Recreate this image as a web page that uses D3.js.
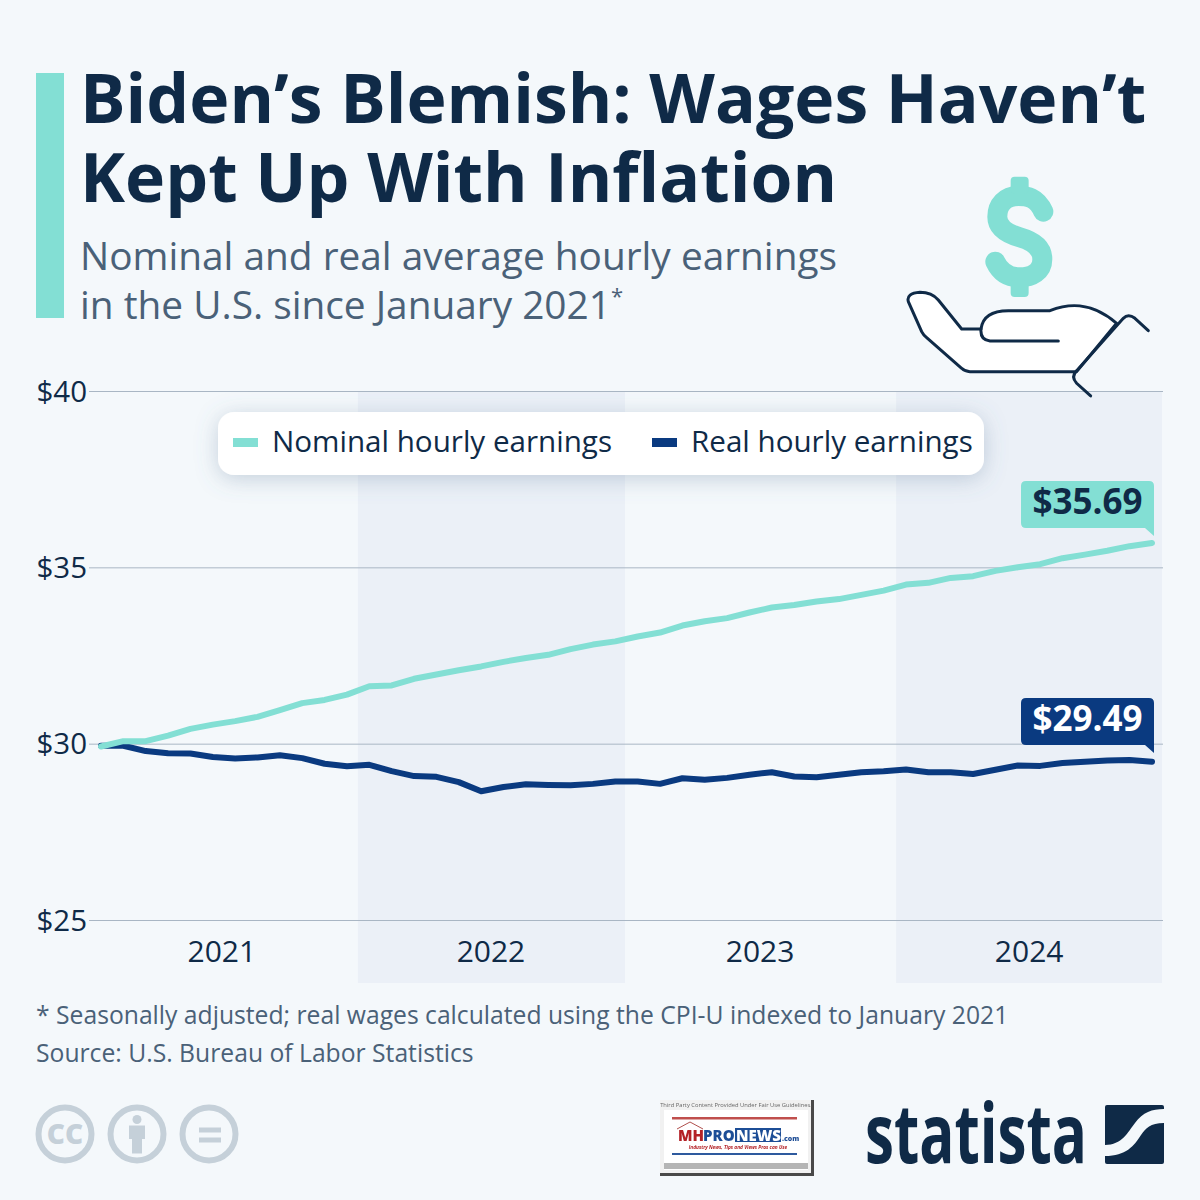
<!DOCTYPE html>
<html><head><meta charset="utf-8">
<script src="https://cdn.jsdelivr.net/npm/d3@7"></script>
<style>html,body{margin:0;padding:0;background:#f4f8fb}svg{display:block}text{font-family:"Open Sans",sans-serif}</style>
</head><body><svg id="c" width="1200" height="1200"></svg>
<script>
const years=["2021","2022","2023","2024"];
const yTicks=[25,30,35,40];
const nominal=[29.92,30.07,30.07,30.23,30.42,30.54,30.64,30.76,30.95,31.15,31.24,31.39,31.63,31.65,31.84,31.96,32.08,32.19,32.32,32.43,32.52,32.68,32.81,32.90,33.04,33.15,33.35,33.47,33.56,33.72,33.86,33.93,34.03,34.10,34.22,34.34,34.51,34.56,34.70,34.75,34.90,35.00,35.09,35.26,35.36,35.47,35.60,35.69];
const real=[29.94,29.94,29.79,29.73,29.72,29.62,29.58,29.61,29.67,29.59,29.43,29.36,29.40,29.22,29.08,29.06,28.91,28.65,28.77,28.85,28.83,28.82,28.86,28.93,28.93,28.86,29.02,28.98,29.03,29.12,29.19,29.07,29.05,29.12,29.19,29.22,29.27,29.19,29.19,29.14,29.26,29.38,29.37,29.45,29.49,29.52,29.54,29.49];
const seriesNames=["Nominal hourly earnings","Real hourly earnings"];
const titleLines=["Biden’s Blemish: Wages Haven’t","Kept Up With Inflation"];
const subtitleLines=["Nominal and real average hourly earnings","in the U.S. since January 2021"];
const noteLines=["* Seasonally adjusted; real wages calculated using the CPI-U indexed to January 2021","Source: U.S. Bureau of Labor Statistics"];

const TEAL="#83dfd4",NAVY="#0a3a80",INK="#0f2a47",BG="#f4f8fb",BAND="#ebf0f7",GREY="#c5d0d9";
const svg=d3.select("#c");
svg.append("rect").attr("width",1200).attr("height",1200).attr("fill",BG);

const defs=svg.append("defs");
const f=defs.append("filter").attr("id","sh").attr("x","-10%").attr("y","-50%").attr("width","120%").attr("height","200%");
f.append("feDropShadow").attr("dx",0).attr("dy",4).attr("stdDeviation",11).attr("flood-color","#5f7a99").attr("flood-opacity",0.32);
defs.append("filter").attr("id","bl").append("feGaussianBlur").attr("stdDeviation",0.45);

// header
svg.append("rect").attr("x",36).attr("y",73).attr("width",28).attr("height",245).attr("fill",TEAL);
const tt=svg.append("text").attr("font-size",67.9).attr("font-weight",700).attr("fill",INK);
tt.selectAll("tspan").data(titleLines).join("tspan").attr("x",80).attr("y",(d,i)=>123+i*79).text(d=>d);
const st=svg.append("text").attr("font-size",38.8).attr("fill","#4a6178");
st.selectAll("tspan.l").data(subtitleLines).join("tspan").attr("class","l").attr("x",80).attr("y",(d,i)=>270+i*48.5).text(d=>d);
st.append("tspan").attr("font-size",22).attr("dy",-15).text("*");

// scales
const x=d3.scaleLinear().domain([0,47]).range([101,1152]);
const y=d3.scaleLinear().domain([25,40]).range([920,391]);
const band=d3.scaleBand().domain(years).range([86.8,1163.2]);

// alternating bands
svg.append("g").selectAll("rect").data(years.filter((d,i)=>i%2==1)).join("rect")
  .attr("x",d=>band(d)+2).attr("width",d=>Math.min(band.bandwidth()-2,1160-band(d)))
  .attr("y",391).attr("height",592).attr("fill",BAND);

// y axis
const gy=svg.append("g").attr("transform","translate(89,0)")
  .call(d3.axisLeft(y).tickValues(yTicks).tickFormat(d=>"$"+d).tickSize(-1074).tickPadding(2));
gy.select(".domain").remove();
gy.selectAll("line").attr("stroke","#a9b6c4").attr("stroke-width",1);
gy.selectAll("text").attr("font-size",29.5).attr("fill",INK).attr("font-family",'"Open Sans"').attr("dy","0.35em");

// x axis
const gx=svg.append("g").attr("transform","translate(0.5,951)")
  .call(d3.axisBottom(band).tickSize(0).tickPadding(0));
gx.select(".domain").remove();
gx.selectAll("text").attr("font-size",30).attr("fill",INK).attr("font-family",'"Open Sans"').attr("dy","0.36em").attr("y",0);

// lines
const line=d3.line().x((d,i)=>x(i)).y(d=>y(d));
[[nominal,TEAL],[real,NAVY]].reverse().forEach(([v,c])=>{
  svg.append("path").datum(v).attr("d",line).attr("fill","none").attr("stroke",c)
    .attr("stroke-width",6).attr("stroke-linejoin","round").attr("stroke-linecap","round");
});

// legend
svg.append("rect").attr("x",218).attr("y",412).attr("width",766).attr("height",63).attr("rx",16).attr("fill","#fff").attr("filter","url(#sh)");
const leg=[{n:seriesNames[0],c:TEAL,sx:233,tx:272},{n:seriesNames[1],c:NAVY,sx:652,tx:691}];
leg.forEach(l=>{
  svg.append("rect").attr("x",l.sx).attr("y",438).attr("width",25).attr("height",9).attr("fill",l.c);
  svg.append("text").attr("x",l.tx).attr("y",452).attr("font-size",29.6).attr("fill",INK).text(l.n);
});

// end labels
function tag(val,c,tc,top){
  const l=1021,r=1154,b=top+47;
  svg.append("path").attr("fill",c)
    .attr("d",`M${l+5},${top}H${r-5}Q${r},${top} ${r},${top+5}V${b+8}L${r-9},${b}H${l+5}Q${l},${b} ${l},${b-5}V${top+5}Q${l},${top} ${l+5},${top}Z`);
  svg.append("text").attr("x",(l+r)/2).attr("y",top+33).attr("text-anchor","middle").attr("font-size",35).attr("font-weight",700).attr("fill",tc).text("$"+val.toFixed(2));
}
tag(nominal[47],TEAL,INK,481);
tag(real[47],NAVY,"#fff",698);

// notes
svg.append("g").selectAll("text").data(noteLines).join("text")
  .attr("x",36).attr("y",(d,i)=>1024+i*38).attr("font-size",24.7).attr("fill","#4a6178").text(d=>d);

// money hand icon
const ic=svg.append("g").attr("transform","translate(880,160) scale(0.3333)");
ic.append("path").attr("d","M490,155 C470,110 440,108 415,108 C375,108 352,135 352,170 C352,205 385,222 420,232 C455,242 487,260 487,298 C487,335 455,352 420,352 C385,352 360,335 346,305")
  .attr("fill","none").attr("stroke",TEAL).attr("stroke-width",60).attr("stroke-linecap","round");
ic.append("rect").attr("x",392).attr("y",50).attr("width",54).attr("height",50).attr("rx",12).attr("fill",TEAL);
ic.append("rect").attr("x",392).attr("y",360).attr("width",54).attr("height",51).attr("rx",12).attr("fill",TEAL);
ic.append("path").attr("d","M85,425 Q78,400 120,397 Q155,397 175,420 L245,507 L303,507 Q310,452 385,452 L510,452 C560,432 630,420 710,490 L590,635 L270,635 Q255,635 245,625 L140,533 Q130,525 125,515 Z")
  .attr("fill","#fff").attr("stroke",INK).attr("stroke-width",9).attr("stroke-linejoin","round");
ic.append("path").attr("d","M535,543 L330,543 Q300,540 303,507").attr("fill","none").attr("stroke",INK).attr("stroke-width",9).attr("stroke-linecap","round");
ic.append("path").attr("d","M805,512 L765,475 Q745,460 730,475 L590,632 Q572,650 590,670 L632,708").attr("fill","none").attr("stroke",INK).attr("stroke-width",9).attr("stroke-linecap","round");

// cc icons
[65,137,209].forEach(cx=>svg.append("circle").attr("cx",cx).attr("cy",1134).attr("r",26.5).attr("fill","none").attr("stroke",GREY).attr("stroke-width",6));
svg.append("text").attr("x",65).attr("y",1144).attr("text-anchor","middle").attr("font-size",28).attr("font-weight",800).attr("fill",GREY).text("CC");
svg.append("circle").attr("cx",137).attr("cy",1119.5).attr("r",4.5).attr("fill",GREY);
svg.append("path").attr("d","M129,1125.5H145V1139H142V1153.5H132V1139H129Z").attr("fill",GREY);
svg.append("rect").attr("x",199).attr("y",1127.5).attr("width",22).attr("height",5).attr("fill",GREY);
svg.append("rect").attr("x",199).attr("y",1137.5).attr("width",22).attr("height",5).attr("fill",GREY);

// third-party badge
const bd=svg.append("g").attr("filter","url(#bl)");
bd.append("rect").attr("x",660).attr("y",1100).attr("width",154).attr("height",76).attr("fill","#4a4a4a");
bd.append("rect").attr("x",660).attr("y",1100).attr("width",151).attr("height",73).attr("fill","#f1f1f1");
bd.append("rect").attr("x",664).attr("y",1110).attr("width",144).attr("height",60).attr("fill","#fff");
bd.append("rect").attr("x",664).attr("y",1163).attr("width",144).attr("height",6).attr("fill","#b5b5b5");
bd.append("text").attr("x",736).attr("y",1107).attr("text-anchor","middle").attr("font-size",5.8).attr("fill","#666").text("Third Party Content Provided Under Fair Use Guidelines.");
bd.append("rect").attr("x",672).attr("y",1117).attr("width",125).attr("height",2.5).attr("fill","#c0504d");
bd.append("rect").attr("x",672).attr("y",1153).attr("width",125).attr("height",2).attr("fill","#2d5a9e");
bd.append("path").attr("d","M677,1129L690,1122L703,1129").attr("fill","none").attr("stroke","#b0504d").attr("stroke-width",1);
const logoText=bd.append("text").attr("y",1141).attr("font-size",15).attr("font-weight",800);
logoText.append("tspan").attr("x",678).attr("fill","#b32025").text("MH");
logoText.append("tspan").attr("x",703).attr("fill","#1f4e96").text("PRO");
bd.append("rect").attr("x",735).attr("y",1128).attr("width",46).attr("height",14).attr("fill","#1f4e96");
const newsText=bd.append("text").attr("y",1141).attr("font-weight",800);
newsText.append("tspan").attr("x",736).attr("font-size",15).attr("fill","#fff").text("NEWS");
newsText.append("tspan").attr("x",782).attr("font-size",7).attr("fill","#1f4e96").text(".com");
bd.append("text").attr("x",738).attr("y",1149).attr("text-anchor","middle").attr("font-size",4.8).attr("font-weight",700).attr("font-style","italic").attr("fill","#b32025").text("Industry News, Tips and Views Pros can Use");

// statista logo
svg.append("text").attr("x",865).attr("y",1163).attr("font-size",82).attr("font-weight",700).attr("font-family","'Liberation Sans Narrow','Open Sans'").attr("fill",INK)
  .attr("textLength",222).attr("lengthAdjust","spacingAndGlyphs").text("statista");
svg.append("rect").attr("x",1105).attr("y",1105).attr("width",59).attr("height",59).attr("rx",2).attr("fill",INK);
svg.append("path").attr("fill",BG).attr("d","M1105,1145 C1122,1145 1128,1132 1135,1123 C1143,1112 1152,1109 1164,1109 V1123 C1150,1123 1146,1128 1141,1135 C1134,1146 1126,1156 1105,1156Z");
</script></body></html>
